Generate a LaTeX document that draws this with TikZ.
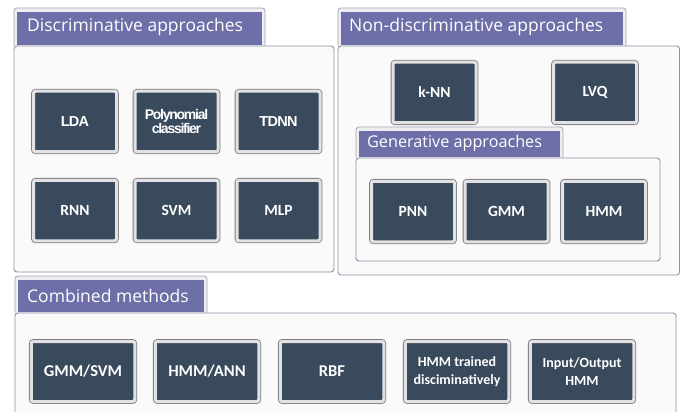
\documentclass[tikz,border=0pt]{standalone}
\usepackage{fontspec}
\setmainfont{Open Sans}
\newfontfamily\boxfont{Carlito}
\newfontfamily\arialfont{Liberation Sans}
\definecolor{tabpurple}{HTML}{6E6FA8}
\definecolor{tabframe}{HTML}{EEEEF2}
\definecolor{tabline}{HTML}{A4A6B4}
\definecolor{panelfill}{HTML}{FAFAFA}
\definecolor{panelline}{HTML}{8E93A8}
\definecolor{itemdark}{HTML}{3A4A5D}
\definecolor{itemring}{HTML}{E2E2E4}
\definecolor{itemedge}{HTML}{7C7C80}
\tikzset{
  panel/.style={rounded corners=3pt, draw=panelline, fill=panelfill, line width=0.9pt},
  tabbox/.style={rounded corners=3pt, draw=tabline, fill=tabframe, line width=0.8pt},
  tabfill/.style={fill=tabpurple},
  tabtext/.style={anchor=west, text=white, inner sep=0pt, font=\fontsize{17.5}{20}\selectfont},
  subtabtext/.style={anchor=west, text=white, inner sep=0pt, font=\fontsize{16.2}{19}\selectfont},
  item/.style={rounded corners=2pt, fill=itemdark, draw=itemring, line width=3pt,
    preaction={draw=itemedge, line width=4.6pt, rounded corners=3pt},
    text=white, align=center, inner sep=1pt,
    font=\boxfont\bfseries\fontsize{15.5}{16}\selectfont},
  itemA/.style={item, font=\arialfont\bfseries\fontsize{14.5}{15}\selectfont},
  itemwide/.style={item, font=\boxfont\bfseries\fontsize{16.5}{17}\selectfont},
  itemsmall/.style={item, font=\boxfont\bfseries\fontsize{14}{17.5}\selectfont},
  small/.style={minimum width=83pt, minimum height=60.5pt},
  wide/.style={minimum width=103.5pt, minimum height=60pt},
}
\begin{document}
\begin{tikzpicture}[x=1pt, y=-1pt]
\useasboundingbox (0,0) rectangle (681,412);
\clip (0,0) rectangle (681,412);
\fill[white] (0,0) rectangle (681,412);

% ---- Discriminative approaches ----
\draw[tabbox] (14,46) -- (14,8) -- (265,8) -- (265,46);
\fill[tabfill] (17,12) rectangle (262,45);
\node[tabtext] (tdisc) at (27,27) {Discriminative approaches};
\draw[panel] (14,46) rectangle (334,272);
\node[itemA, small] (lda)  at (75,121.5)  {\addfontfeatures{LetterSpace=-5}LDA};
\node[itemA, small, font=\arialfont\bfseries\fontsize{14}{14.5}\selectfont] (poly) at (176.5,121.5)
  {\addfontfeatures{LetterSpace=-9}Polynomial\\ \addfontfeatures{LetterSpace=-9}classifier};
\node[itemA, small] (tdnn) at (278.5,121.5) {\addfontfeatures{LetterSpace=-5}TDNN};
\node[item, small] (rnn) at (75,210.5)    {RNN};
\node[item, small] (svm) at (176.5,210.5) {SVM};
\node[item, small] (mlp) at (278.5,210.5) {MLP};

% ---- Non-discriminative approaches ----
\draw[tabbox] (338,46) -- (338,8) -- (626,8) -- (626,46);
\fill[tabfill] (341,12) rectangle (623,45);
\node[tabtext] (tnondisc) at (349,27) {Non-discriminative approaches};
\draw[panel] (338,46) rectangle (679.5,275);
\node[item, small] (knn) at (434.5,92.5) {k-NN};
\node[item, small] (lvq) at (595,92.5)   {LVQ};

% ---- Generative approaches ----
\draw[tabbox] (356,158) -- (356,127) -- (563,127) -- (563,158);
\fill[tabfill] (359,131) rectangle (560,157);
\node[subtabtext] (tgen) at (367,143.5) {Generative approaches};
\draw[panel] (356,158) rectangle (660,261);
\node[item, small] (pnn) at (413,211.5)   {PNN};
\node[item, small] (gmm) at (506.5,211.5) {GMM};
\node[item, small] (hmm) at (604,211.5)   {HMM};

% ---- Combined methods ----
\draw[tabbox] (15,313) -- (15,276) -- (207,276) -- (207,313);
\fill[tabfill] (18,280) rectangle (204,312);
\node[tabtext] (tcomb) at (27,295.5) {Combined methods};
\draw[panel] (15,313) rectangle (676,430);
\node[itemwide, wide] (gmmsvm) at (83,371.5)  {GMM/SVM};
\node[itemwide, wide] (hmmann) at (207,371.5) {HMM/ANN};
\node[itemwide, wide] (rbf)    at (332,371.5) {RBF};
\node[itemsmall, wide] (hmmdisc) at (457,371.5) {HMM trained\\disciminatively};
\node[itemsmall, wide] (iohmm)   at (582,371.5) {Input/Output\\HMM};
\end{tikzpicture}
\end{document}
